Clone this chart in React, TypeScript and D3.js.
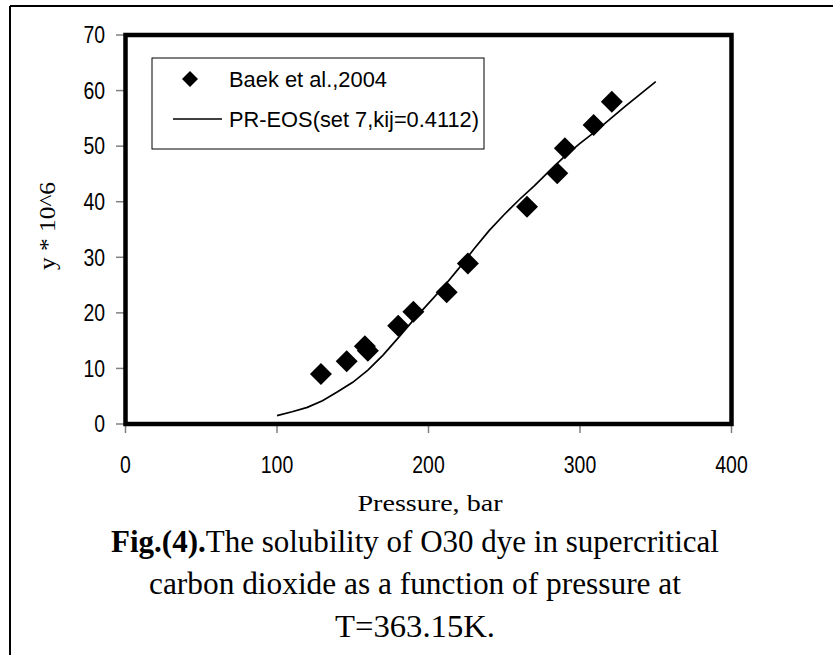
import React from 'react';
import * as d3 from 'd3';

// Baek et al., 2004 experimental points
const expPressure = [129, 146, 158, 160, 180, 190, 212, 226, 265, 285, 290, 309, 321];
const expSolubility = [9.0, 11.3, 14.0, 13.2, 17.7, 20.2, 23.7, 28.9, 39.1, 45.1, 49.6, 53.8, 58.0];

// PR-EOS model curve
const modelPressure = [100, 110, 120, 130, 140, 150, 160, 170, 180, 190, 200, 210, 220, 230, 240, 250, 260, 270, 280, 290, 300, 310, 320, 330, 340, 350];
const modelSolubility = [1.5, 2.2, 3.0, 4.2, 5.8, 7.5, 9.7, 12.4, 15.5, 18.7, 21.7, 24.7, 28.0, 31.5, 34.8, 37.7, 40.4, 42.9, 45.6, 48.2, 50.5, 52.6, 54.9, 57.2, 59.4, 61.6];

const xTicks = [0, 100, 200, 300, 400];
const yTicks = [0, 10, 20, 30, 40, 50, 60, 70];

const legendLabels = ['Baek et al.,2004', 'PR-EOS(set 7,kij=0.4112)'];

const W = 833;
const H = 655;

const App: React.FC = () => {
  const x = d3.scaleLinear().domain([0, 400]).range([125.5, 731.5]);
  const y = d3.scaleLinear().domain([0, 70]).range([424, 35]);

  const line = d3
    .line<number>()
    .x((_d, i) => x(modelPressure[i]))
    .y((d) => y(d));

  const diamond = (cx: number, cy: number, r: number) =>
    `M${cx},${cy - r}L${cx + r},${cy}L${cx},${cy + r}L${cx - r},${cy}Z`;

  const sans = '"Liberation Sans", Arial, sans-serif';
  const serif = '"Liberation Serif", "Times New Roman", serif';
  // narrow tick digits, roughly 10.8px per character
  const tickLen = (t: number) => String(t).length * 10.8;

  return (
    <svg
      width={W}
      height={H}
      viewBox={`0 0 ${W} ${H}`}
      style={{ position: 'absolute', left: 0, top: 0, background: '#fff' }}
    >
      {/* outer figure frame */}
      <line x1={10} y1={6} x2={W} y2={6} stroke="#000" strokeWidth={2} />
      <line x1={10} y1={6} x2={10} y2={H} stroke="#000" strokeWidth={2} />

      {/* ticks */}
      {yTicks.map((t) => (
        <g key={'y' + t}>
          <line x1={116} x2={125.5} y1={y(t)} y2={y(t)} stroke="#808080" strokeWidth={1.5} />
          <text x={105} y={y(t)} dy="0.36em" textAnchor="end" fontFamily={sans} fontSize={23}
            textLength={tickLen(t)} lengthAdjust="spacingAndGlyphs">
            {t}
          </text>
        </g>
      ))}
      {xTicks.map((t) => (
        <g key={'x' + t}>
          <line x1={x(t)} x2={x(t)} y1={424} y2={433} stroke="#808080" strokeWidth={1.5} />
          <text x={x(t)} y={473} textAnchor="middle" fontFamily={sans} fontSize={23}
            textLength={tickLen(t)} lengthAdjust="spacingAndGlyphs">
            {t}
          </text>
        </g>
      ))}

      {/* model curve */}
      <path d={line(modelSolubility) || ''} fill="none" stroke="#000" strokeWidth={1.7} />

      {/* experimental points */}
      {expPressure.map((p, i) => (
        <path key={'p' + i} d={diamond(x(p), y(expSolubility[i]), 11)} fill="#000" />
      ))}

      {/* plot frame */}
      <rect x={125.5} y={35} width={606} height={389} fill="none" stroke="#000" strokeWidth={4.5} />

      {/* legend */}
      <rect x={152} y={58} width={332} height={91} fill="#fff" stroke="#000" strokeWidth={1} />
      <path d={diamond(190, 79, 8)} fill="#000" />
      <text x={229} y={79} dy="0.36em" fontFamily={sans} fontSize={22} textLength={158} lengthAdjust="spacingAndGlyphs">
        {legendLabels[0]}
      </text>
      <line x1={173} x2={222} y1={119} y2={119} stroke="#000" strokeWidth={1.7} />
      <text x={229} y={119} dy="0.36em" fontFamily={sans} fontSize={22} textLength={250} lengthAdjust="spacingAndGlyphs">
        {legendLabels[1]}
      </text>

      {/* axis titles */}
      <text x={430} y={511} textAnchor="middle" fontFamily={serif} fontSize={24} textLength={145} lengthAdjust="spacingAndGlyphs">
        Pressure, bar
      </text>
      <text
        transform="translate(55,226) rotate(-90)"
        textAnchor="middle"
        fontFamily={serif}
        fontSize={24}
        textLength={88}
        lengthAdjust="spacingAndGlyphs"
      >
        y * 10^6
      </text>

      {/* caption */}
      <text x={415} y={552} textAnchor="middle" fontFamily={serif} fontSize={31} textLength={608} lengthAdjust="spacingAndGlyphs">
        <tspan fontWeight="bold">Fig.(4).</tspan>
        <tspan>The solubility of O30 dye in supercritical</tspan>
      </text>
      <text x={415} y={594} textAnchor="middle" fontFamily={serif} fontSize={31} textLength={532} lengthAdjust="spacingAndGlyphs">
        carbon dioxide as a function of pressure at
      </text>
      <text x={415} y={637} textAnchor="middle" fontFamily={serif} fontSize={31} textLength={160} lengthAdjust="spacingAndGlyphs">
        T=363.15K.
      </text>
    </svg>
  );
};

export default App;
